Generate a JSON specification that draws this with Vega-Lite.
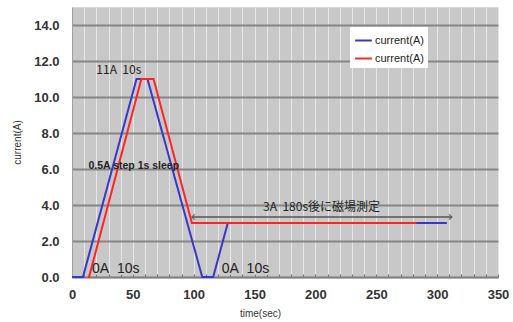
{
  "$schema": "https://vega.github.io/schema/vega-lite/v6.json",
  "width": 426,
  "height": 270,
  "autosize": {"type": "none"},
  "padding": {"left": 72, "top": 7, "right": 15, "bottom": 45},
  "background": "white",
  "config": {
    "view": {"fill": "#c8c8c8", "stroke": "#d8d8d8"},
    "font": "Liberation Sans"
  },
  "encoding": {
    "x": {"field": "t", "type": "quantitative", "scale": {"domain": [0, 350], "nice": false},
      "axis": {"values": [0,10,20,30,40,50,60,70,80,90,100,110,120,130,140,150,160,170,180,190,200,210,220,230,240,250,260,270,280,290,300,310,320,330,340,350],
        "labelExpr": "datum.value % 50 == 0 ? datum.label : ''", "labelOverlap": false, "grid": true, "gridColor": "#e6e6e6", "gridWidth": 1,
        "domainColor": "#808080", "domainWidth": 1.5, "tickColor": "#707070", "tickSize": -3,
        "labelFontSize": 13, "labelFontWeight": "bold", "labelColor": "#333", "labelPadding": 14, "labelFlush": false,
        "title": "time(sec)", "titleFontSize": 10, "titleFontWeight": "normal", "titleColor": "#333", "titleX": 188, "titleY": 36, "titleBaseline": "middle"}},
    "y": {"field": "a", "type": "quantitative", "scale": {"domain": [0, 15], "nice": false},
      "axis": {"values": [0,2,4,6,8,10,12,14], "format": ".1f", "labelOverlap": false, "grid": true, "gridColor": "#858585", "gridWidth": 2,
        "domainColor": "#a0a0a0", "ticks": false, "labelFontSize": 13, "labelFontWeight": "bold", "labelColor": "#333", "labelPadding": 13,
        "title": "current(A)", "titleFontSize": 10, "titleFontWeight": "normal", "titleColor": "#333", "titleX": -55, "titleBaseline": "middle"}}
  },
  "layer": [
    {
      "data": {"values": [
        {"t": 0, "a": 0, "s": "A"}, {"t": 9, "a": 0, "s": "A"}, {"t": 53, "a": 11, "s": "A"}, {"t": 62, "a": 11, "s": "A"},
        {"t": 107, "a": 0, "s": "A"}, {"t": 116, "a": 0, "s": "A"}, {"t": 128, "a": 3, "s": "A"}, {"t": 308, "a": 3, "s": "A"},
        {"t": 13, "a": 0, "s": "B"}, {"t": 14, "a": 0, "s": "B"}, {"t": 57, "a": 11, "s": "B"}, {"t": 67, "a": 11, "s": "B"},
        {"t": 98.5, "a": 3, "s": "B"}, {"t": 283, "a": 3, "s": "B"}
      ]},
      "mark": {"type": "line", "strokeWidth": 2},
      "encoding": {
        "color": {"field": "s", "type": "nominal", "scale": {"domain": ["A", "B"], "range": ["#3838c8", "#ff2424"]},
          "legend": {"title": null, "orient": "none", "legendX": 278, "legendY": 20, "fillColor": "white", "padding": 4,
            "labelExpr": "'current(A)'", "labelFontSize": 11, "labelColor": "#222", "symbolType": "stroke", "symbolSize": 280, "symbolStrokeWidth": 2, "rowPadding": 3, "labelOffset": 2}}
      }
    },
    {
      "data": {"values": [{"t": 98.6, "t2": 312, "a": 3.33}]},
      "mark": {"type": "rule", "color": "#555", "strokeWidth": 1.5},
      "encoding": {"x2": {"field": "t2"}}
    },
    {
      "data": {"values": [{"t": 312, "a": 3.33}]},
      "mark": {"type": "point", "shape": "M-1,-1L0,0L-1,1", "filled": false, "stroke": "#555", "strokeWidth": 1.5, "size": 30}
    },
    {
      "data": {"values": [{"t": 98.6, "a": 3.33}]},
      "mark": {"type": "point", "shape": "M1,-1L0,0L1,1", "filled": false, "stroke": "#555", "strokeWidth": 1.5, "size": 30}
    },
    {
      "data": {"values": [
        {"t": 20, "a": 11.5, "txt": "11A\u00a0\u00a010s"},
        {"t": 157, "a": 3.9, "txt": "3A\u00a0\u00a0180s後に磁場測定"}
      ]},
      "mark": {"type": "text", "align": "left", "baseline": "middle", "fontSize": 12, "color": "#222", "font": "Noto Sans CJK JP"},
      "encoding": {"text": {"field": "txt"}}
    },
    {
      "data": {"values": [{"t": 13.5, "a": 6.15, "txt": "0.5A step 1s sleep"}]},
      "mark": {"type": "text", "align": "left", "baseline": "middle", "fontSize": 10.5, "fontWeight": "bold", "color": "#222", "font": "Liberation Sans"},
      "encoding": {"text": {"field": "txt"}}
    },
    {
      "data": {"values": [{"t": 16.5, "a": 0.45, "txt": "0A\u00a0\u00a010s"}, {"t": 123, "a": 0.45, "txt": "0A\u00a0\u00a010s"}]},
      "mark": {"type": "text", "align": "left", "baseline": "middle", "fontSize": 14, "color": "#222", "font": "Liberation Sans"},
      "encoding": {"text": {"field": "txt"}}
    }
  ]
}
